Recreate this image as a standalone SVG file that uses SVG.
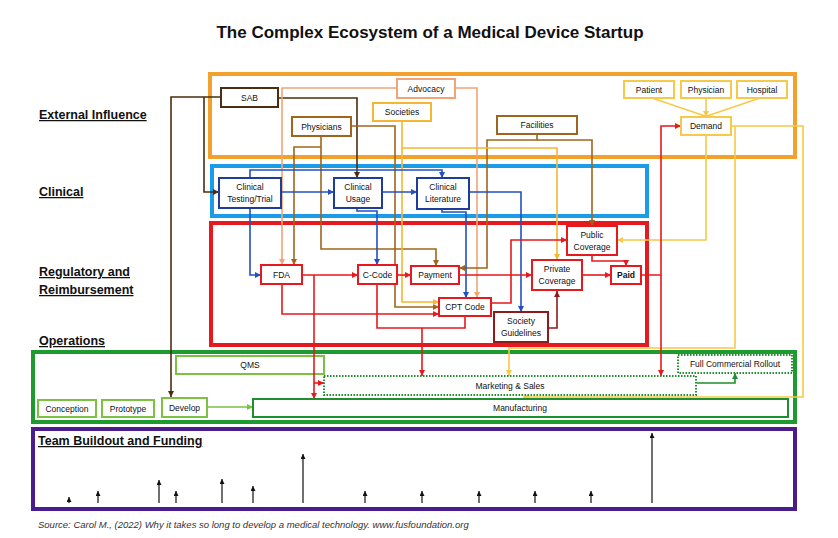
<svg xmlns="http://www.w3.org/2000/svg" width="838" height="538" viewBox="0 0 838 538">
<style>
text{font-family:"Liberation Sans",Arial,sans-serif;fill:#111}
.t{font-size:17px;font-weight:bold}
.lab{font-size:12.5px;font-weight:bold;text-decoration:underline}
.n{font-size:8.5px;text-anchor:middle}
.nb{font-size:8.5px;text-anchor:middle;font-weight:bold}
.src{font-size:9.5px;font-style:italic;fill:#333}
.frame{fill:none;stroke-width:4}
.box{fill:#fff;stroke-width:2}
.c{fill:none;stroke-width:1.6}
</style>
<defs>
<marker id="a-red" viewBox="0 0 10 10" refX="10" refY="5" markerWidth="6" markerHeight="6" markerUnits="userSpaceOnUse" orient="auto"><path d="M0,0L10,5L0,10z" fill="#E5191E"/></marker>
<marker id="a-dred" viewBox="0 0 10 10" refX="10" refY="5" markerWidth="6" markerHeight="6" markerUnits="userSpaceOnUse" orient="auto"><path d="M0,0L10,5L0,10z" fill="#8E1B1B"/></marker>
<marker id="a-blue" viewBox="0 0 10 10" refX="10" refY="5" markerWidth="6" markerHeight="6" markerUnits="userSpaceOnUse" orient="auto"><path d="M0,0L10,5L0,10z" fill="#2350C0"/></marker>
<marker id="a-brown" viewBox="0 0 10 10" refX="10" refY="5" markerWidth="6" markerHeight="6" markerUnits="userSpaceOnUse" orient="auto"><path d="M0,0L10,5L0,10z" fill="#A0651C"/></marker>
<marker id="a-dbrown" viewBox="0 0 10 10" refX="10" refY="5" markerWidth="6" markerHeight="6" markerUnits="userSpaceOnUse" orient="auto"><path d="M0,0L10,5L0,10z" fill="#4B2E0E"/></marker>
<marker id="a-salmon" viewBox="0 0 10 10" refX="10" refY="5" markerWidth="6" markerHeight="6" markerUnits="userSpaceOnUse" orient="auto"><path d="M0,0L10,5L0,10z" fill="#F2A477"/></marker>
<marker id="a-yor" viewBox="0 0 10 10" refX="10" refY="5" markerWidth="6" markerHeight="6" markerUnits="userSpaceOnUse" orient="auto"><path d="M0,0L10,5L0,10z" fill="#F4B731"/></marker>
<marker id="a-yel" viewBox="0 0 10 10" refX="10" refY="5" markerWidth="6" markerHeight="6" markerUnits="userSpaceOnUse" orient="auto"><path d="M0,0L10,5L0,10z" fill="#F7C948"/></marker>
<marker id="a-lgreen" viewBox="0 0 10 10" refX="10" refY="5" markerWidth="6" markerHeight="6" markerUnits="userSpaceOnUse" orient="auto"><path d="M0,0L10,5L0,10z" fill="#7DC142"/></marker>
<marker id="a-dgreen" viewBox="0 0 10 10" refX="10" refY="5" markerWidth="6" markerHeight="6" markerUnits="userSpaceOnUse" orient="auto"><path d="M0,0L10,5L0,10z" fill="#1E8E2E"/></marker>
<marker id="a-black" viewBox="0 0 10 10" refX="10" refY="5" markerWidth="5" markerHeight="5" markerUnits="userSpaceOnUse" orient="auto"><path d="M0,0L10,5L0,10z" fill="#111"/></marker>
</defs>
<rect width="838" height="538" fill="#fff"/>

<text class="t" x="430" y="38" text-anchor="middle">The Complex Ecosystem of a Medical Device Startup</text>

<g id="labels">
<text class="lab" x="39" y="119">External Influence</text>
<text class="lab" x="39" y="196">Clinical</text>
<text class="lab" x="39" y="276">Regulatory and</text>
<text class="lab" x="39" y="294">Reimbursement</text>
<text class="lab" x="39" y="345">Operations</text>
</g>

<g id="frames">
<rect id="frame-external" class="frame" x="210" y="74" width="585" height="83" stroke="#F2A22C"/>
<rect id="frame-clinical" class="frame" x="212" y="166" width="435" height="50" stroke="#1B9CE8"/>
<rect id="frame-regulatory" class="frame" x="211" y="223" width="436" height="122" stroke="#E5191E"/>
<rect id="frame-operations" class="frame" x="33" y="352" width="762" height="70" stroke="#1D9B2F"/>
<rect id="frame-team" class="frame" x="33" y="429" width="762" height="80" stroke="#4A1C8C"/>
</g>

<g id="node-qms"><rect x="176" y="356" width="148" height="18" fill="none" stroke="#7DC142" stroke-width="2"/><text class="n" x="250" y="368">QMS</text></g>

<g id="connectors">
<!-- SAB -->
<path class="c" stroke="#4B2E0E" d="M221,97H171V397" marker-end="url(#a-dbrown)"/>
<path class="c" stroke="#4B2E0E" d="M204,97V192H219" marker-end="url(#a-dbrown)"/>
<path class="c" stroke="#4B2E0E" d="M278,98H357V178" marker-end="url(#a-dbrown)"/>
<!-- Advocacy -->
<path class="c" stroke="#F2A477" d="M397,88H282V265" marker-end="url(#a-salmon)"/>
<path class="c" stroke="#F2A477" d="M455,88H477V298" marker-end="url(#a-salmon)"/>
<!-- Physicians -->
<path class="c" stroke="#A0651C" d="M321,136V249H436V266" marker-end="url(#a-brown)"/>
<path class="c" stroke="#A0651C" d="M321,147H294V265" marker-end="url(#a-brown)"/>
<path class="c" stroke="#A0651C" d="M351,126H395V307H439" marker-end="url(#a-brown)"/>
<!-- Facilities -->
<path class="c" stroke="#A0651C" d="M537,134V140H487V268H459" marker-end="url(#a-brown)"/>
<path class="c" stroke="#A0651C" d="M537,140H592V226" marker-end="url(#a-brown)"/>
<!-- Societies -->
<path class="c" stroke="#F4B731" d="M402,121V302H439" marker-end="url(#a-yor)"/>
<path class="c" stroke="#F4B731" d="M402,148H557V260" marker-end="url(#a-yor)"/>
<!-- Demand -->
<path class="c" stroke="#F7C948" d="M652,98L705,116"/>
<path class="c" stroke="#F7C948" d="M760,98L707,116"/>
<path class="c" stroke="#F7C948" d="M706,98V117" marker-end="url(#a-yel)"/>
<path class="c" stroke="#F7C948" d="M706,135V240H617" marker-end="url(#a-yel)"/>
<path class="c" stroke="#F7C948" d="M731,126H803V397H523" marker-end="url(#a-yel)"/>
<path class="c" stroke="#F7C948" d="M735,126V348H509V376" marker-end="url(#a-yel)"/>
<!-- Blue clinical -->
<path class="c" stroke="#2350C0" d="M281,192H334" marker-end="url(#a-blue)"/>
<path class="c" stroke="#2350C0" d="M250,178V170H442V178" marker-end="url(#a-blue)"/>
<path class="c" stroke="#2350C0" d="M382,192H417" marker-end="url(#a-blue)"/>
<path class="c" stroke="#2350C0" d="M250,208V275H261" marker-end="url(#a-blue)"/>
<path class="c" stroke="#2350C0" d="M357,208V211H377V265" marker-end="url(#a-blue)"/>
<path class="c" stroke="#2350C0" d="M442,209V212H466V298" marker-end="url(#a-blue)"/>
<path class="c" stroke="#2350C0" d="M469,192H521V312" marker-end="url(#a-blue)"/>
<!-- Red regulatory -->
<path class="c" stroke="#E5191E" d="M302,275H358" marker-end="url(#a-red)"/>
<path class="c" stroke="#E5191E" d="M314,275V399" marker-end="url(#a-red)"/>
<path class="c" stroke="#E5191E" d="M314,383H324" marker-end="url(#a-red)"/>
<path class="c" stroke="#E5191E" d="M282,284V314H439" marker-end="url(#a-red)"/>
<path class="c" stroke="#E5191E" d="M397,275H411" marker-end="url(#a-red)"/>
<path class="c" stroke="#E5191E" d="M377,284V328H465V316"/>
<path class="c" stroke="#E5191E" d="M422,328V376" marker-end="url(#a-red)"/>
<path class="c" stroke="#E5191E" d="M459,275H532" marker-end="url(#a-red)"/>
<path class="c" stroke="#E5191E" d="M491,303H511V240H567" marker-end="url(#a-red)"/>
<path class="c" stroke="#E5191E" d="M582,275H611" marker-end="url(#a-red)"/>
<path class="c" stroke="#E5191E" d="M592,255V261H626V266" marker-end="url(#a-red)"/>
<path class="c" stroke="#E5191E" d="M641,275H661V126H681" marker-end="url(#a-red)"/>
<path class="c" stroke="#E5191E" d="M661,275V376" marker-end="url(#a-red)"/>
<path class="c" stroke="#8E1B1B" d="M548,328H557V291" marker-end="url(#a-dred)"/>
<!-- Green operations -->
<path class="c" stroke="#7DC142" d="M207,407H253" marker-end="url(#a-lgreen)"/>
<path class="c" stroke="#1E8E2E" d="M697,383H735V373" marker-end="url(#a-dgreen)"/>
<!-- Funding -->
<g stroke="#111" stroke-width="1.2" fill="none">
<path d="M69,503V497" marker-end="url(#a-black)"/>
<path d="M98,503V491" marker-end="url(#a-black)"/>
<path d="M159,503V480" marker-end="url(#a-black)"/>
<path d="M176,503V491" marker-end="url(#a-black)"/>
<path d="M222,503V479" marker-end="url(#a-black)"/>
<path d="M253,503V486" marker-end="url(#a-black)"/>
<path d="M303,503V454" marker-end="url(#a-black)"/>
<path d="M365,503V491" marker-end="url(#a-black)"/>
<path d="M422,503V491" marker-end="url(#a-black)"/>
<path d="M479,503V491" marker-end="url(#a-black)"/>
<path d="M535,503V491" marker-end="url(#a-black)"/>
<path d="M591,503V491" marker-end="url(#a-black)"/>
<path d="M652,503V433" marker-end="url(#a-black)"/>
</g>
</g>

<g id="node-sab"><rect class="box" x="221" y="88" width="57" height="19" stroke="#4B2E0E"/><text class="n" x="249.5" y="100.5">SAB</text></g>
<g id="node-advocacy"><rect class="box" x="397" y="79" width="58" height="19" stroke="#F2A477"/><text class="n" x="426" y="91.5">Advocacy</text></g>
<g id="node-societies"><rect class="box" x="373" y="103" width="58" height="18" stroke="#F4B731"/><text class="n" x="402" y="115">Societies</text></g>
<g id="node-physicians"><rect class="box" x="292" y="117" width="59" height="19" stroke="#A0651C"/><text class="n" x="321.5" y="129.5">Physicians</text></g>
<g id="node-facilities"><rect class="box" x="497" y="116" width="80" height="18" stroke="#A0651C"/><text class="n" x="537" y="128">Facilities</text></g>
<g id="node-patient"><rect class="box" x="624" y="81" width="50" height="17" stroke="#F7C948"/><text class="n" x="649" y="92.5">Patient</text></g>
<g id="node-physician"><rect class="box" x="681" y="81" width="50" height="17" stroke="#F7C948"/><text class="n" x="706" y="92.5">Physician</text></g>
<g id="node-hospital"><rect class="box" x="737" y="81" width="50" height="17" stroke="#F7C948"/><text class="n" x="762" y="92.5">Hospital</text></g>
<g id="node-demand"><rect class="box" x="681" y="117" width="50" height="18" stroke="#F7C948"/><text class="n" x="706" y="129">Demand</text></g>

<g id="node-clinical-testing"><rect class="box" x="219" y="178" width="62" height="30" stroke="#1E3C9A"/><text class="n" x="250" y="190">Clinical</text><text class="n" x="250" y="202">Testing/Trial</text></g>
<g id="node-clinical-usage"><rect class="box" x="334" y="178" width="48" height="30" stroke="#1E3C9A"/><text class="n" x="358" y="190">Clinical</text><text class="n" x="358" y="202">Usage</text></g>
<g id="node-clinical-literature"><rect class="box" x="417" y="178" width="52" height="31" stroke="#1E3C9A"/><text class="n" x="443" y="190">Clinical</text><text class="n" x="443" y="202">Literature</text></g>

<g id="node-fda"><rect class="box" x="261" y="265" width="41" height="19" stroke="#E5191E"/><text class="n" x="281.5" y="277.5">FDA</text></g>
<g id="node-ccode"><rect class="box" x="358" y="265" width="39" height="19" stroke="#E5191E"/><text class="n" x="377.5" y="277.5">C-Code</text></g>
<g id="node-payment"><rect class="box" x="411" y="266" width="48" height="18" stroke="#E5191E"/><text class="n" x="435" y="278">Payment</text></g>
<g id="node-cptcode"><rect class="box" x="439" y="298" width="52" height="18" stroke="#E5191E"/><text class="n" x="465" y="310">CPT Code</text></g>
<g id="node-private"><rect class="box" x="532" y="260" width="50" height="30" stroke="#E5191E"/><text class="n" x="557" y="272">Private</text><text class="n" x="557" y="284">Coverage</text></g>
<g id="node-public"><rect class="box" x="567" y="226" width="50" height="29" stroke="#E5191E"/><text class="n" x="592" y="238">Public</text><text class="n" x="592" y="250">Coverage</text></g>
<g id="node-paid"><rect class="box" x="611" y="266" width="30" height="18" stroke="#E5191E"/><text class="nb" x="626" y="278">Paid</text></g>
<g id="node-society-guidelines"><rect class="box" x="494" y="312" width="54" height="30" stroke="#8E1B1B"/><text class="n" x="521" y="324">Society</text><text class="n" x="521" y="336">Guidelines</text></g>

<g id="node-marketing"><rect x="324" y="376" width="372" height="19" fill="none" stroke="#1E8E2E" stroke-width="2" stroke-dasharray="1.5,1.5"/><text class="n" x="510" y="389">Marketing &amp; Sales</text></g>
<g id="node-rollout"><rect x="678" y="355" width="114" height="18" fill="#fff" stroke="#1E8E2E" stroke-width="2" stroke-dasharray="1.5,1.5"/><text class="n" x="735" y="367">Full Commercial Rollout</text></g>
<g id="node-conception"><rect class="box" x="38" y="400" width="58" height="17" stroke="#7DC142"/><text class="n" x="67" y="411.5">Conception</text></g>
<g id="node-prototype"><rect class="box" x="102" y="400" width="52" height="17" stroke="#7DC142"/><text class="n" x="128" y="411.5">Prototype</text></g>
<g id="node-develop"><rect class="box" x="162" y="398" width="45" height="19" stroke="#7DC142"/><text class="n" x="184.5" y="410.5">Develop</text></g>
<g id="node-manufacturing"><rect class="box" x="253" y="399" width="535" height="18" stroke="#1E8E2E" fill="none"/><text class="n" x="520" y="411">Manufacturing</text></g>

<text class="lab" x="38" y="445">Team Buildout and Funding</text>
<text class="src" x="38" y="528">Source: Carol M., (2022) Why it takes so long to develop a medical technology. www.fusfoundation.org</text>
</svg>
